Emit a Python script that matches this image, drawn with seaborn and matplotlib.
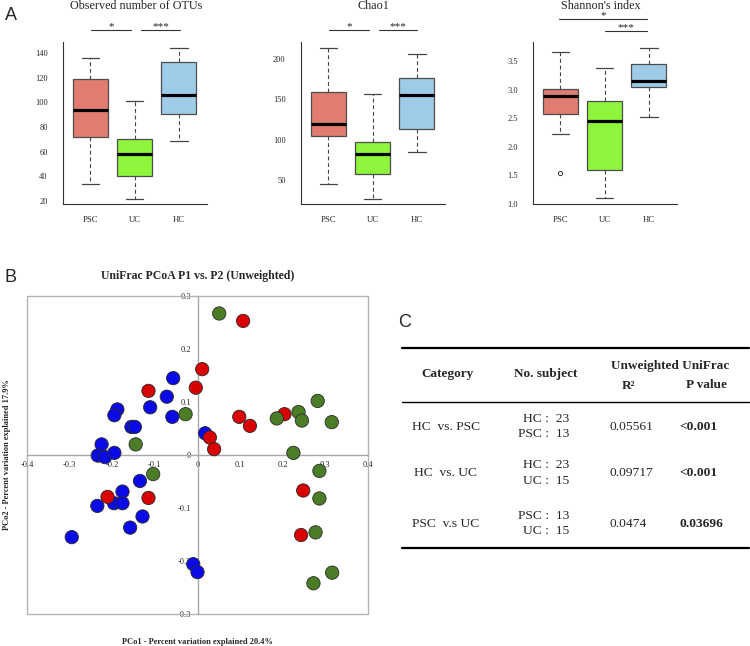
# Alpha diversity boxplots, UniFrac PCoA and PERMANOVA table (panels A, B, C)
import numpy as np
import pandas as pd
import matplotlib
matplotlib.use("Agg")
import matplotlib.pyplot as plt
import seaborn as sns
from matplotlib.patches import Rectangle
from matplotlib.lines import Line2D

# ---- data ----
groups = ["PSC", "UC", "HC"]
box_colors = ["#E07D70", "#8CF53C", "#9ECBE7"]

# observed OTUs: whisker low, Q1, median, Q3, whisker high
otu_low = [34, 22, 69]
otu_q1 = [72, 40, 90.5]
otu_med = [94, 58, 106]
otu_q3 = [119, 70.5, 132.5]
otu_high = [136, 101, 144]

chao_low = [45, 27, 85]
chao_q1 = [104, 57, 113.5]
chao_med = [120, 82.5, 155]
chao_q3 = [159, 97.5, 176]
chao_high = [214, 157, 206]

shan_low = [2.22, 1.10, 2.52]
shan_q1 = [2.58, 1.60, 3.05]
shan_med = [2.90, 2.45, 3.15]
shan_q3 = [3.02, 2.80, 3.46]
shan_high = [3.66, 3.38, 3.74]
shan_out = [[1.55], [], []]

# PCoA coordinates
hc_x = [-0.057, -0.072, -0.188, -0.111, -0.195, -0.059, -0.155, -0.147, -0.225, -0.234, -0.217, -0.195,
        -0.135, -0.176, -0.235, -0.196, -0.176, -0.129, -0.158, -0.295, -0.010, 0.000, 0.018]
hc_y = [0.145, 0.110, 0.086, 0.090, 0.075, 0.072, 0.053, 0.053, 0.020, -0.001, -0.004, 0.004,
        -0.049, -0.069, -0.096, -0.091, -0.091, -0.116, -0.137, -0.155, -0.206, -0.221, 0.041]
psc_x = [-0.115, 0.011, -0.004, 0.107, -0.211, -0.115, 0.029, 0.039, 0.098, 0.123, 0.204, 0.248, 0.243]
psc_y = [0.121, 0.162, 0.127, 0.253, -0.079, -0.081, 0.033, 0.011, 0.072, 0.055, 0.077, -0.067, -0.151]
uc_x = [0.051, 0.282, -0.028, -0.145, -0.104, 0.186, 0.237, 0.245, 0.315, 0.225, 0.286, 0.286, 0.277, 0.316, 0.272]
uc_y = [0.267, 0.102, 0.077, 0.020, -0.036, 0.069, 0.081, 0.065, 0.062, 0.004, -0.030, -0.082, -0.146, -0.222, -0.242]

# table
tab_category = ["HC  vs. PSC", "HC  vs. UC", "PSC  v.s UC"]
tab_subj_a = ["HC :  23", "HC :  23", "PSC :  13"]
tab_subj_b = ["PSC :  13", "UC :  15", "UC :  15"]
tab_r2 = ["0.05561", "0.09717", "0.0474"]
tab_p = ["<0.001", "<0.001", "0.03696"]

# ---- style ----
sns.set_style("white")
plt.rcParams["font.family"] = "serif"
plt.rcParams["font.serif"] = ["Liberation Serif", "DejaVu Serif"]
plt.rcParams["axes.unicode_minus"] = False

W, H = 750, 646
fig = plt.figure(figsize=(7.5, 6.46), dpi=100)


def px(x, y):
    return x / W, 1 - y / H


def box_panel(left, title, title_x, low, q1, med, q3, high, ylim, yticks, fmt, sig, outliers=None):
    ax = fig.add_axes([left / W, 1 - 204 / H, 144 / W, 162 / H])
    stats = []
    for i, g in enumerate(groups):
        stats.append(dict(label=g, whislo=low[i], q1=q1[i], med=med[i], q3=q3[i], whishi=high[i],
                          fliers=outliers[i] if outliers else []))
    bp = ax.bxp(stats, positions=[0, 1, 2], widths=0.8, patch_artist=True, showfliers=True,
                boxprops=dict(edgecolor="#4d4d4d", linewidth=0.9),
                whiskerprops=dict(color="#444444", linewidth=0.8, linestyle=(0, (3.5, 2.5))),
                capprops=dict(color="#444444", linewidth=0.9),
                medianprops=dict(color="black", linewidth=2.3),
                flierprops=dict(marker="o", markerfacecolor="none", markeredgecolor="#333333",
                                markersize=3, markeredgewidth=0.7),
                capwidths=0.4)
    for patch, c in zip(bp["boxes"], box_colors):
        patch.set_facecolor(c)
    ax.set_xlim(-0.62, 2.64)
    ax.set_ylim(*ylim)
    ax.set_yticks(yticks)
    ax.set_yticklabels([fmt.format(v) for v in yticks])
    ax.set_xticks([0, 1, 2])
    ax.set_xticklabels(groups)
    sns.despine(ax=ax)
    for s in ["left", "bottom"]:
        ax.spines[s].set_color("#333333")
        ax.spines[s].set_linewidth(0.8)
    ax.tick_params(axis="y", length=4, width=0.7, color="#333333", pad=7, labelsize=6)
    ax.tick_params(axis="x", length=5, width=0.7, color="#333333", pad=4, labelsize=6.2)
    trans = ax.get_xaxis_transform()
    for x0, x1, yy, label in sig:
        ax.plot([x0, x1], [yy, yy], color="#333333", lw=0.8, transform=trans, clip_on=False)
        ax.text((x0 + x1) / 2, yy + 0.005, label, transform=trans, ha="center", va="baseline",
                fontsize=8)
    fx, fy = px(title_x, 9)
    fig.text(fx, fy, title, ha="center", va="baseline", fontsize=8.7)
    return ax


box_panel(63, "Observed number of OTUs", 136, otu_low, otu_q1, otu_med, otu_q3, otu_high,
          (17.6, 149), [20, 40, 60, 80, 100, 120, 140], "{:.0f}",
          [(0.02, 0.92, 1.074, "*"), (1.15, 2.02, 1.074, "***")])
box_panel(301, "Chao1", 373, chao_low, chao_q1, chao_med, chao_q3, chao_high,
          (20.3, 221), [50, 100, 150, 200], "{:.0f}",
          [(0.02, 0.92, 1.074, "*"), (1.14, 2.0, 1.074, "***")])
box_panel(533, "Shannon's index", 601, shan_low, shan_q1, shan_med, shan_q3, shan_high,
          (1.0, 3.84), [1.0, 1.5, 2.0, 2.5, 3.0, 3.5], "{:.1f}",
          [(-0.03, 1.97, 1.140, "*"), (1.0, 1.97, 1.066, "***")], outliers=shan_out)

# ---- panel B: PCoA scatter ----
pcoa = pd.concat([
    pd.DataFrame({"PC1": hc_x, "PC2": hc_y, "group": "HC"}),
    pd.DataFrame({"PC1": psc_x, "PC2": psc_y, "group": "PSC"}),
    pd.DataFrame({"PC1": uc_x, "PC2": uc_y, "group": "UC"}),
], ignore_index=True)
palette = {"HC": "#0A0AE6", "PSC": "#D80000", "UC": "#4A7D26"}

axb = fig.add_axes([27 / W, 1 - 614 / H, 341 / W, 318 / H])
sns.scatterplot(data=pcoa, x="PC1", y="PC2", hue="group", palette=palette, s=92,
                edgecolor="#2a2a2a", linewidth=0.6, legend=False, ax=axb, zorder=3)
axb.set_xlim(-0.4, 0.4)
axb.set_ylim(-0.3, 0.3)
xt = [-0.4, -0.3, -0.2, -0.1, 0, 0.1, 0.2, 0.3, 0.4]
yt = [-0.3, -0.2, -0.1, 0, 0.1, 0.2, 0.3]
axb.set_xticks(xt)
axb.set_xticklabels([f"{v:g}" for v in xt])
axb.set_yticks(yt)
axb.set_yticklabels([f"{v:g}" for v in yt])
axb.spines["left"].set_position("zero")
axb.spines["bottom"].set_position("zero")
axb.spines["top"].set_visible(False)
axb.spines["right"].set_visible(False)
for s in ["left", "bottom"]:
    axb.spines[s].set_color("#A8A8A8")
    axb.spines[s].set_linewidth(1.0)
axb.add_patch(Rectangle((0, 0), 1, 1, transform=axb.transAxes, fill=False,
                        edgecolor="#B4B4B4", linewidth=1.0, clip_on=False))
axb.tick_params(axis="both", direction="inout", length=3, width=0.7, color="#A8A8A8",
                labelsize=6, pad=3)
axb.set_xlabel("")
axb.set_ylabel("")
axb.text(0.5, 1.064, "UniFrac PCoA P1 vs. P2 (Unweighted)", transform=axb.transAxes,
         ha="center", va="center", fontsize=8.5, fontweight="bold")
axb.text(0.5, -0.087, "PCo1 - Percent variation explained 20.4%", transform=axb.transAxes,
         ha="center", va="center", fontsize=6, fontweight="bold")
axb.text(-0.058, 0.5, "PCo2 - Percent variation explained 17.9%", transform=axb.transAxes,
         ha="center", va="center", rotation=90, fontsize=6, fontweight="bold")

# ---- panel C: table ----
def hline(y, lw):
    x0, yy = px(402, y)
    x1, _ = px(749, y)
    fig.add_artist(Line2D([x0, x1], [yy, yy], color="black", linewidth=lw))


hline(347.7, 1.6)
hline(401.7, 1.0)
hline(548.3, 1.6)

fig.text(*px(447, 374), "Category", ha="center", va="center", fontsize=9.5, fontweight="bold")
fig.text(*px(546, 374), "No. subject", ha="center", va="center", fontsize=9.5, fontweight="bold")
fig.text(*px(670, 366), "Unweighted UniFrac", ha="center", va="center", fontsize=9.5, fontweight="bold")
fig.text(*px(628, 386), "R²", ha="center", va="center", fontsize=9.5, fontweight="bold")
fig.text(*px(706, 385), "P value", ha="center", va="center", fontsize=9.5, fontweight="bold")

row_y = [426.7, 473, 524]
for i, yy in enumerate(row_y):
    fig.text(*px(446, yy), tab_category[i], ha="center", va="center", fontsize=9.7)
    fig.text(*px(569, yy - 8), tab_subj_a[i], ha="right", va="center", fontsize=9.7)
    fig.text(*px(569, yy + 7.5), tab_subj_b[i], ha="right", va="center", fontsize=9.7)
    fig.text(*px(609, yy), tab_r2[i], ha="left", va="center", fontsize=9.7)
    fig.text(*px(679, yy), tab_p[i], ha="left", va="center", fontsize=9.7, fontweight="bold")

# panel letters
for letter, (lx, ly) in zip(["A", "B", "C"], [(5, 20), (5, 282), (398, 327)]):
    fig.text(*px(lx, ly), letter, ha="left", va="baseline", fontsize=13,
             family=["Liberation Sans", "DejaVu Sans"])

fig.savefig("out.png", dpi=100)
